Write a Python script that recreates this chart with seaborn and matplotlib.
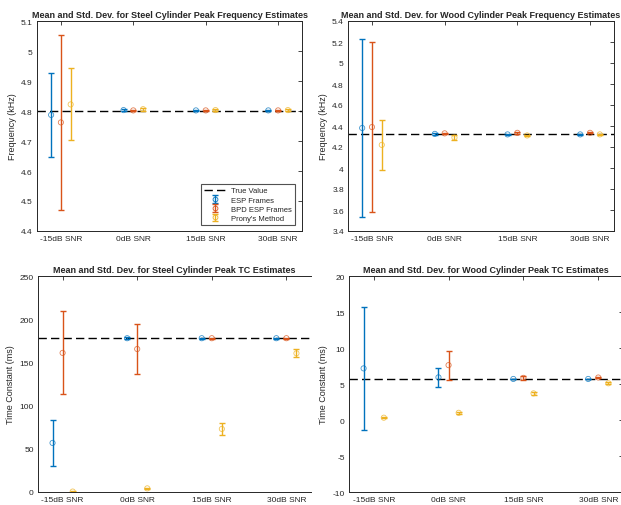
import numpy as np
import matplotlib
matplotlib.use('Agg')
import matplotlib.pyplot as plt
import seaborn as sns
from matplotlib.ticker import FormatStrFormatter
from matplotlib.transforms import Bbox, TransformedBbox
from matplotlib.lines import Line2D
from matplotlib.legend_handler import HandlerTuple

# categories
snr_labels = ['-15dB SNR', '0dB SNR', '15dB SNR', '30dB SNR']
methods = ['ESP Frames', 'BPD ESP Frames', "Prony's Method"]

# steel frequency (kHz): mean / std per method
steel_f_mean = {'ESP Frames': [4.787, 4.803, 4.802, 4.802],
                'BPD ESP Frames': [4.762, 4.802, 4.802, 4.802],
                "Prony's Method": [4.822, 4.806, 4.803, 4.803]}
steel_f_std = {'ESP Frames': [0.141, 0.003, 0.002, 0.002],
               'BPD ESP Frames': [0.292, 0.003, 0.002, 0.002],
               "Prony's Method": [0.120, 0.005, 0.003, 0.003]}
steel_f_true = 4.8

# wood frequency (kHz)
wood_f_mean = {'ESP Frames': [4.381, 4.325, 4.320, 4.320],
               'BPD ESP Frames': [4.390, 4.330, 4.335, 4.335],
               "Prony's Method": [4.220, 4.290, 4.310, 4.320]}
wood_f_std = {'ESP Frames': [0.850, 0.008, 0.004, 0.004],
              'BPD ESP Frames': [0.808, 0.006, 0.010, 0.006],
              "Prony's Method": [0.240, 0.020, 0.005, 0.004]}
wood_f_true = 4.32

# steel time constant (ms)
steel_tc_mean = {'ESP Frames': [56.8, 178.0, 178.0, 178.0],
                 'BPD ESP Frames': [161.0, 165.5, 178.0, 178.0],
                 "Prony's Method": [0.5, 4.2, 73.0, 160.5]}
steel_tc_std = {'ESP Frames': [27.0, 1.0, 0.5, 0.5],
                'BPD ESP Frames': [48.0, 29.0, 0.8, 0.8],
                "Prony's Method": [0.3, 1.0, 7.0, 4.5]}
steel_tc_true = 177.8

# wood time constant (ms)
wood_tc_mean = {'ESP Frames': [7.17, 5.92, 5.70, 5.70],
                'BPD ESP Frames': [np.nan, 7.62, 5.85, 5.90],
                "Prony's Method": [0.32, 1.00, 3.70, 5.10]}
wood_tc_std = {'ESP Frames': [8.5, 1.28, 0.05, 0.05],
               'BPD ESP Frames': [np.nan, 2.0, 0.30, 0.10],
               "Prony's Method": [0.10, 0.12, 0.18, 0.15]}
wood_tc_true = 5.7

colors = ['#0072BD', '#D95319', '#EDB120']
offsets = [-0.135, 0.0, 0.135]

sns.set_style('white')
plt.rcParams['font.family'] = ['Liberation Sans', 'DejaVu Sans']
plt.rcParams['font.size'] = 6

W, H = 621, 506
fig = plt.figure(figsize=(W / 100, H / 100), dpi=100)

def px(x0, y0, x1, y1):
    return [x0 / W, 1 - y1 / H, (x1 - x0) / W, (y1 - y0) / H]

ax_sf = fig.add_axes(px(37, 22, 302, 232))
ax_wf = fig.add_axes(px(348, 22, 614, 232))
ax_st = fig.add_axes(px(38, 277, 311, 493))
ax_wt = fig.add_axes(px(349, 277, 623, 493))

panels = [
    (ax_sf, steel_f_mean, steel_f_std, steel_f_true, (4.4, 5.1), np.arange(4.4, 5.11, 0.1),
     'Frequency (kHz)', 'Mean and Std. Dev. for Steel Cylinder Peak Frequency Estimates'),
    (ax_wf, wood_f_mean, wood_f_std, wood_f_true, (3.4, 5.4), np.arange(3.4, 5.41, 0.2),
     'Frequency (kHz)', 'Mean and Std. Dev. for Wood Cylinder Peak Frequency Estimates'),
    (ax_st, steel_tc_mean, steel_tc_std, steel_tc_true, (0, 250), np.arange(0, 251, 50),
     'Time Constant (ms)', 'Mean and Std. Dev. for Steel Cylinder Peak TC Estimates'),
    (ax_wt, wood_tc_mean, wood_tc_std, wood_tc_true, (-10, 20), np.arange(-10, 21, 5),
     'Time Constant (ms)', 'Mean and Std. Dev. for Wood Cylinder Peak TC Estimates'),
]

xpos = np.arange(1, len(snr_labels) + 1)
dark = '#262626'
leg_handles = {}

for ax, means, stds, true_val, ylim, yticks, ylabel, title in panels:
    ax.set_xlim(0.67, 4.33)
    tl = ax.axhline(true_val, color='black', ls=(0, (6, 3)), lw=1, zorder=1)
    leg_handles.setdefault('True Value', tl)
    for m, c, off in zip(methods, colors, offsets):
        eb = ax.errorbar(xpos + off, means[m], yerr=stds[m], fmt='none', ecolor=c,
                         elinewidth=1, capsize=2, capthick=1, zorder=2)
        sns.scatterplot(x=xpos + off, y=means[m], ax=ax, marker='o', s=14, legend=False,
                        facecolor='none', edgecolor=c, linewidth=0.6, alpha=0.75, zorder=3)
        mk = Line2D([], [], ls='none', marker='o', ms=3.5, mfc='none', mec=c, mew=0.6)
        leg_handles.setdefault(m, (eb, mk))
    ax.set_ylim(*ylim)
    ax.set_yticks(yticks)
    ax.yaxis.set_major_formatter(FormatStrFormatter('%g'))
    ax.set_xticks(xpos)
    ax.set_xticklabels(snr_labels)
    ax.set_ylabel(ylabel, fontsize=6.5, color=dark, labelpad=3)
    ax.set_title(title, fontsize=6.5, fontweight='bold', pad=3)
    ax.tick_params(direction='in', length=3, width=0.6, colors=dark, labelsize=6,
                   top=True, right=True, pad=3)
    for sp in ax.spines.values():
        sp.set_color(dark)
        sp.set_linewidth(0.7)

# bottom-left panel is cut at its right edge
ax_st.spines['right'].set_visible(False)
ax_st.tick_params(right=False)

# left column was cropped at x=310
clip = TransformedBbox(Bbox([[0, 0], [310 / W, 1]]), fig.transFigure)
for ax in (ax_sf, ax_st):
    ax.title.set_clip_box(clip)
    ax.title.set_clip_on(True)
    for lab in ax.get_xticklabels():
        lab.set_clip_box(clip)
        lab.set_clip_on(True)

labels = ['True Value'] + methods
leg = ax_sf.legend([leg_handles[k] for k in labels], labels, loc='lower right',
                   bbox_to_anchor=(0.988, 0.01), handler_map={tuple: HandlerTuple(ndivide=1)},
                   fontsize=5.5, frameon=True, fancybox=False, edgecolor=dark,
                   borderpad=0.4, labelspacing=0.25, handlelength=3.0, handletextpad=0.6)
leg.get_frame().set_linewidth(0.8)

plt.savefig('out.png', dpi=100)
